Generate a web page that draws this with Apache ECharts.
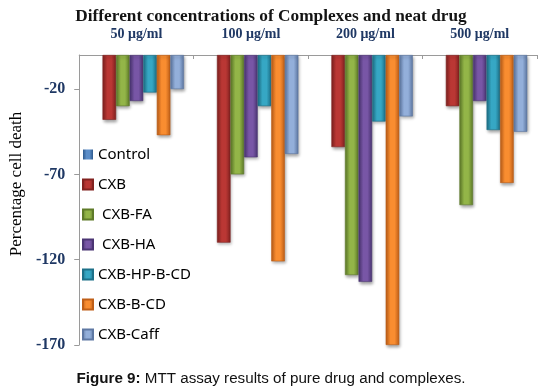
<!DOCTYPE html>
<html>
<head>
<meta charset="utf-8">
<script src="https://cdn.jsdelivr.net/npm/echarts@6/dist/echarts.min.js"></script>
<style>html,body{margin:0;padding:0;background:#fff}#c{width:542px;height:389px}</style>
</head>
<body>
<div id="c"></div>
<script>
var categories = ['50 μg/ml', '100 μg/ml', '200 μg/ml', '500 μg/ml'];
var seriesNames = ['Control', 'CXB', 'CXB-FA', 'CXB-HA', 'CXB-HP-B-CD', 'CXB-B-CD', 'CXB-Caff'];
var control = [0, 0, 0, 0];
var cxb = [-38, -110, -54, -30];
var cxbFA = [-30, -70, -129, -88];
var cxbHA = [-27, -60, -133, -27];
var cxbHPBCD = [-22, -30, -39, -44];
var cxbBCD = [-47, -121, -170, -75];
var cxbCaff = [-20, -58, -36, -45];
var yTicks = [-170, -120, -70, -20];

var values = [control, cxb, cxbFA, cxbHA, cxbHPBCD, cxbBCD, cxbCaff];
var palette = [
  ['#2E5A8E', '#5B8DC8'],
  ['#822220', '#BA3734'],
  ['#5E7B29', '#93B548'],
  ['#4B3573', '#7856A6'],
  ['#1D7088', '#36A7C4'],
  ['#BF5F18', '#F98D30'],
  ['#5E78A3', '#93AFDA']
];
function grad(c) {
  return new echarts.graphic.LinearGradient(0, 0, 1, 0, [
    {offset: 0, color: c[0]},
    {offset: 0.35, color: c[1]},
    {offset: 0.65, color: c[1]},
    {offset: 1, color: c[0]}
  ]);
}
var series = seriesNames.map(function (n, i) {
  var isControl = i === 0;
  return {
    name: n,
    type: 'bar',
    data: values[i],
    barGap: '0%',
    barCategoryGap: '17%',
    itemStyle: {
      color: grad(palette[i]),
      borderColor: palette[i][0],
      borderWidth: isControl ? 0 : 0.6,
      shadowColor: isControl ? 'rgba(0,0,0,0)' : 'rgba(0,0,0,0.35)',
      shadowBlur: isControl ? 0 : 3,
      shadowOffsetX: 1,
      shadowOffsetY: 2
    }
  };
});

var chart = echarts.init(document.getElementById('c'));
chart.setOption({
  animation: false,
  backgroundColor: '#fff',
  title: {
    text: 'Different concentrations of Complexes and neat drug',
    left: 'center',
    top: 3,
    textStyle: {fontFamily: 'Liberation Serif', fontWeight: 'bold', fontSize: 17.3, color: '#141414'}
  },
  legend: {
    orient: 'vertical',
    left: 77,
    top: 142,
    itemWidth: 10,
    itemHeight: 10,
    itemGap: 15,
    icon: 'rect',
    data: seriesNames,
    formatter: function (n) { return (n === 'CXB-FA' || n === 'CXB-HA') ? ' ' + n : n; },
    textStyle: {fontFamily: 'Noto Sans', fontSize: 15, color: '#000', lineHeight: 15}
  },
  grid: {left: 63, right: 5, top: 55, bottom: 44, containLabel: false},
  xAxis: {
    type: 'category',
    position: 'top',
    data: categories,
    axisLine: {lineStyle: {color: '#9a9a9a', width: 1}},
    axisTick: {show: true, inside: true, length: 4, lineStyle: {color: '#9a9a9a'}},
    axisLabel: {margin: 14, fontFamily: 'Liberation Serif', fontWeight: 'bold', fontSize: 14, color: '#1F3864'}
  },
  yAxis: {
    type: 'value',
    min: -170,
    max: 0,
    interval: 50,
    name: 'Percentage cell death',
    nameLocation: 'middle',
    nameRotate: 90,
    nameGap: 42,
    nameTextStyle: {fontFamily: 'Liberation Serif', fontSize: 17, color: '#000', padding: [0, 0, 0, 32]},
    axisLine: {show: true, lineStyle: {color: '#9a9a9a'}},
    axisTick: {show: true, length: 5, lineStyle: {color: '#9a9a9a'}},
    splitLine: {show: false},
    axisLabel: {
      showMaxLabel: false,
      margin: 14,
      fontFamily: 'Liberation Serif',
      fontWeight: 'bold',
      fontSize: 16,
      color: '#1F3864',
      formatter: function (v) { return yTicks.indexOf(v) >= 0 ? String(v) : ''; }
    }
  },
  graphic: [{
    type: 'text',
    left: 'center',
    top: 371,
    style: {
      text: '{b|Figure 9:} MTT assay results of pure drug and complexes.',
      rich: {b: {fontWeight: 'bold', fontFamily: 'Liberation Sans', fontSize: 15.2, fill: '#111'}},
      font: '15.2px "Liberation Sans"',
      fill: '#111'
    }
  }],
  series: series
});
</script>
</body>
</html>
